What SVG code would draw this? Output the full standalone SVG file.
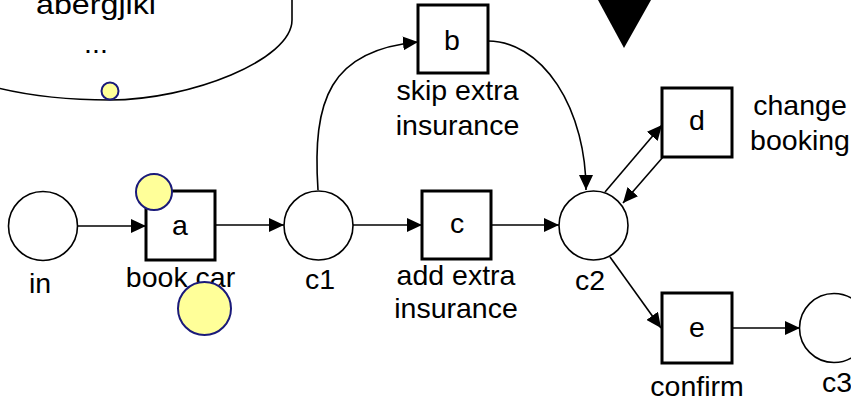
<svg xmlns="http://www.w3.org/2000/svg" width="851" height="404" viewBox="0 0 851 404">
  <defs>
    <marker id="arrow" markerUnits="userSpaceOnUse" markerWidth="16" markerHeight="14" refX="15" refY="7" orient="auto">
      <path d="M0,0 L15,7 L0,14 z" fill="#000"/>
    </marker>
    <style>
      .place { fill: #fff; stroke: #000; stroke-width: 1.6; }
      .trans { fill: #fff; stroke: #000; stroke-width: 3; }
      .token { fill: #ffff99; stroke: #1a1a7a; stroke-width: 2; }
      .arc { fill: none; stroke: #000; stroke-width: 1.6; marker-end: url(#arrow); }
      text { font-family: "Liberation Sans", Arial, sans-serif; font-size: 28.5px; fill: #000; text-anchor: middle; }
    </style>
  </defs>
  <rect width="851" height="404" fill="#fff"/>

  <!-- callout bubble (top cut off) -->
  <g id="callout">
    <path d="M-10,86 C20,94 60,100 110,100 C190,100 292,60 292,20 L292,-2" fill="none" stroke="#000" stroke-width="1.6"/>
    <text x="96" y="14" textLength="120" lengthAdjust="spacingAndGlyphs">abergjlkl</text>
    <text x="96" y="53">...</text>
    <circle class="token" cx="110" cy="91" r="8.5"/>
  </g>

  <!-- pointer triangle -->
  <polygon id="pointer" points="598,0 651,0 624,48" fill="#000"/>

  <!-- connectors -->
  <g id="connectors">
    <line class="arc" x1="78" y1="226" x2="146" y2="226"/>
    <line class="arc" x1="215" y1="225" x2="284" y2="225"/>
    <path class="arc" d="M318,190 C312,100 330,50 418,42"/>
    <path class="arc" d="M488,41 A98,149 0 0 1 586,190"/>
    <line class="arc" x1="353" y1="225" x2="422" y2="225"/>
    <line class="arc" x1="491" y1="225" x2="559" y2="225"/>
    <line class="arc" x1="605" y1="192" x2="662" y2="125"/>
    <line class="arc" x1="663" y1="157" x2="623" y2="203"/>
    <line class="arc" x1="610" y1="257" x2="661" y2="328"/>
    <line class="arc" x1="732" y1="328" x2="800" y2="328"/>
  </g>

  <!-- places -->
  <g id="in">
    <circle class="place" cx="43" cy="226" r="34.5"/>
    <text x="40" y="293">in</text>
  </g>
  <g id="c1">
    <circle class="place" cx="318.5" cy="225.5" r="34.5"/>
    <text x="320" y="289">c1</text>
  </g>
  <g id="c2">
    <circle class="place" cx="593.5" cy="225.5" r="34.5"/>
    <text x="590" y="290">c2</text>
  </g>
  <g id="c3">
    <circle class="place" cx="834" cy="328" r="34.5"/>
    <text x="837" y="392">c3</text>
  </g>

  <!-- transitions -->
  <g id="a">
    <rect class="trans" x="146" y="191" width="69" height="69"/>
    <text x="180" y="235">a</text>
    <text x="180.5" y="287">book car</text>
    <circle class="token" cx="154" cy="192" r="18"/>
    <circle class="token" cx="204.5" cy="308.5" r="26.5"/>
  </g>
  <g id="b">
    <rect class="trans" x="418" y="5" width="70" height="68"/>
    <text x="452" y="50">b</text>
    <text x="457.5" y="100">skip extra</text>
    <text x="457.5" y="135">insurance</text>
  </g>
  <g id="c">
    <rect class="trans" x="422" y="191" width="69" height="68"/>
    <text x="457" y="233">c</text>
    <text x="456" y="285">add extra</text>
    <text x="456" y="318">insurance</text>
  </g>
  <g id="d">
    <rect class="trans" x="662" y="88" width="70" height="69"/>
    <text x="697" y="130">d</text>
    <text x="800" y="115">change</text>
    <text x="800" y="150">booking</text>
  </g>
  <g id="e">
    <rect class="trans" x="662" y="293" width="70" height="70"/>
    <text x="697" y="337">e</text>
    <text x="697" y="396">confirm</text>
  </g>
</svg>
